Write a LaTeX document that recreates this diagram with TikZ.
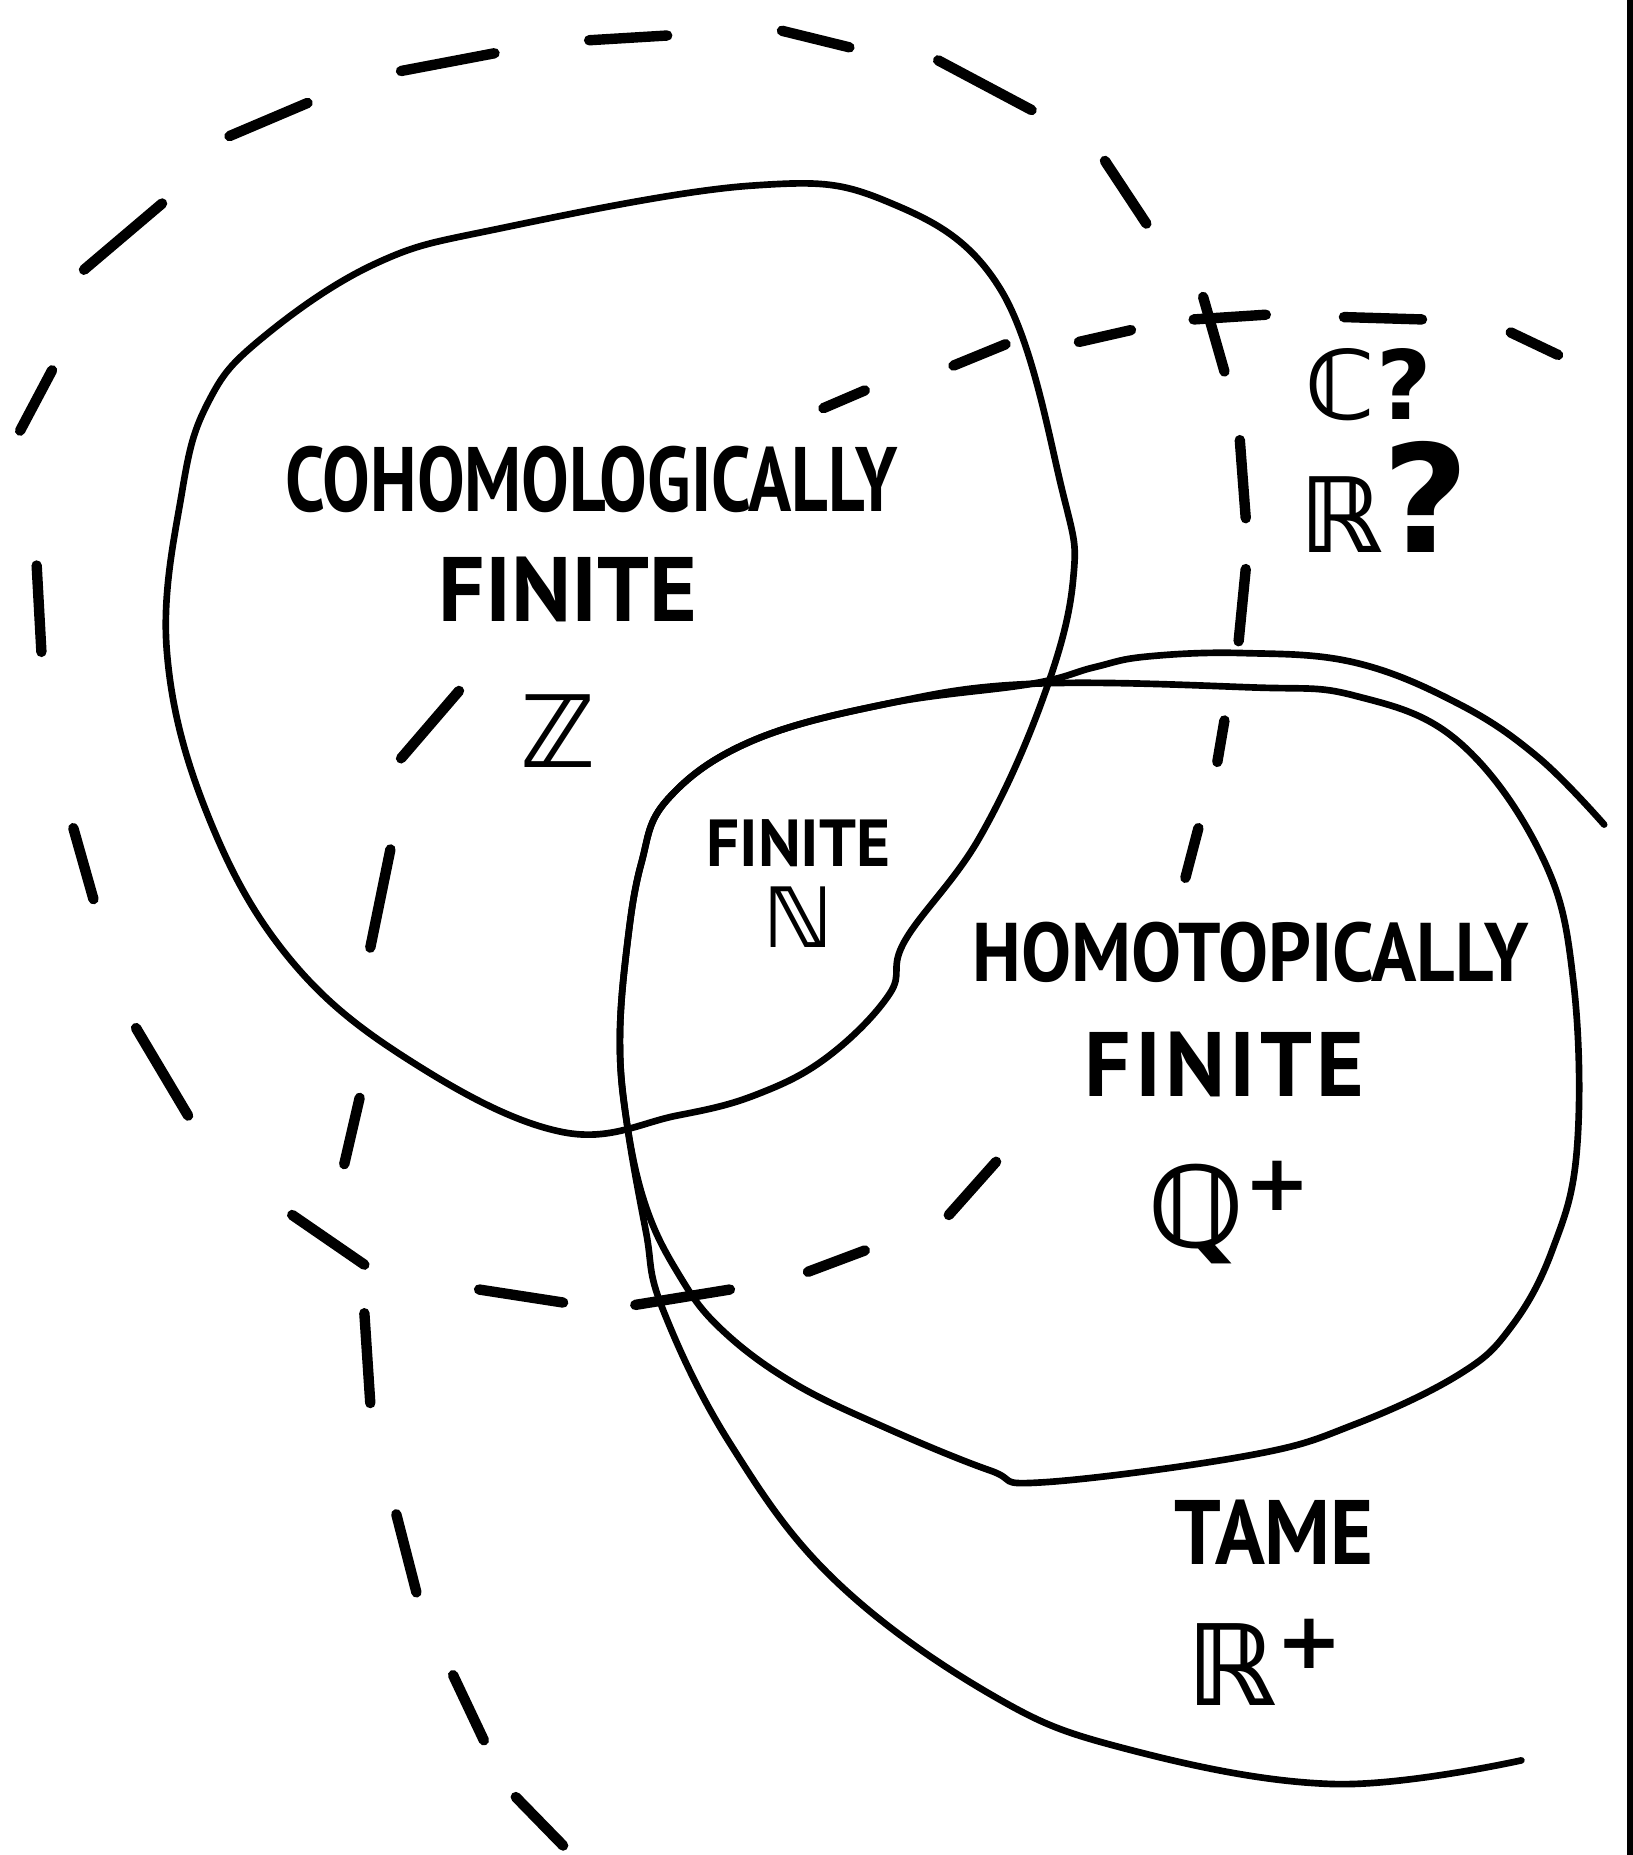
\documentclass[tikz,border=0pt]{standalone}
\usepackage{fontspec}
\usepackage{graphicx}
\newfontfamily\handfont{PT Sans}
\newfontfamily\bbfont{DejaVu Sans}
\newcommand\squeeze[2]{\scalebox{#1}[1]{#2}}

\begin{document}
\begin{tikzpicture}[x=0.01cm,y=-0.01cm,line cap=round,line join=round,
 region/.style={line width=1.6pt},
 dashstroke/.style={line width=2.5pt},
 hand/.style={font=\handfont\bfseries\fontsize{#1}{#1}\selectfont,inner sep=0pt},
 bb/.style={font=\bbfont\bfseries\fontsize{#1}{#1}\selectfont,inner sep=0pt}]
 \useasboundingbox (0,0) rectangle (1380,1568);
 % edge of the sheet
 \fill (1375,0) rectangle (1380,1568);
 % cohomologically finite
 \draw[region] plot[smooth cycle,tension=0.65] coordinates {(634,157) (749,170) (846,245) (898,415) (907,491) (881,592) (828,708) (765,795) (752,840) (700,893) (640,925) (572,943) (476,957) (352,900) (247,813) (176,690) (141,550) (154,415) (176,340) (220,287) (317,223) (423,193)};
 % homotopically finite
 \draw[region] plot[smooth cycle,tension=0.65] coordinates {(564,676) (634,627) (749,595) (872,578) (1057,581) (1145,588) (1233,627) (1304,725) (1330,830) (1333,971) (1312,1057) (1277,1122) (1233,1162) (1145,1204) (1057,1230) (881,1253) (837,1243) (749,1207) (669,1168) (608,1122) (573,1076) (546,1020) (530,950) (524,880) (530,800) (542,730)};
 % tame
 \draw[region] plot[smooth,tension=0.65] coordinates {(1356,697) (1300,640) (1233,595) (1145,560) (1050,552) (969,555) (925,564) (872,578) (749,595) (634,627) (564,676) (542,730) (530,800) (524,880) (530,950) (546,1041) (560,1106) (617,1220) (705,1335) (837,1432) (951,1478) (1127,1508) (1286,1488)};
 % inner dashed boundary
 \foreach \ax/\ay/\bx/\by in {436/1519/476/1560, 383/1416/409/1471, 335/1280/352/1346, 308/1110/313/1186, 304/928/291/984, 330/718/313/801, 339/641/388/584, 696/345/731/330, 806/309/850/291, 912/289/956/279, 1009/270/1070/266, 1136/268/1202/270, 1277/281/1317/300}
  \draw[dashstroke] (\ax,\ay) -- (\bx,\by);
 % outer dashed boundary
 \foreach \ax/\ay/\bx/\by in {1017/251/1035/314, 1048/372/1053/438, 1053/481/1047/542, 1035/609/1029/644, 1013/700/1002/742, 842/982/802/1027, 731/1057/683/1075, 617/1090/537/1103, 476/1101/405/1090, 308/1069/247/1027, 159/943/115/869, 79/760/62/700, 35/551/31/478, 17/364/44/313, 71/228/137/172, 194/115/260/87, 339/60/418/45, 498/34/564/30, 661/26/718/40, 793/51/872/93, 934/136/969/189}
  \draw[dashstroke] (\ax,\ay) -- (\bx,\by);
 % labels
 \node[hand=22] (coh) at (500,405) {\squeeze{0.78}{COHOMOLOGICALLY}};
 \node[hand=22] (cohfin) at (480,498) {FINITE};
 \node[bb=24] (zz) at (472,618) {ℤ};
 \node[hand=16] (fin) at (675,713) {\squeeze{0.98}{FINITE}};
 \node[bb=20] (nn) at (675,775) {ℕ};
 \node[hand=20] (hom) at (1057,805) {\squeeze{0.9}{HOMOTOPICALLY}};
 \node[hand=22] (homfin) at (1035,900) {F\kern1pt I\kern1pt N\kern1pt I\kern1pt T\kern1pt E};
 \node[bb=27] (qq) at (1040,1025) {ℚ\textsuperscript{+}};
 \node[hand=22] (tame) at (1077,1295) {\squeeze{0.9}{TAME}};
 \node[bb=27] (rr) at (1070,1405) {ℝ\textsuperscript{+}};
 \node[bb=23] (cc) at (1157,325) {ℂ?};
 \node[bb=25] (rq) at (1170,420) {ℝ{\fontsize{36}{36}\selectfont ?}};
\end{tikzpicture}
\end{document}
